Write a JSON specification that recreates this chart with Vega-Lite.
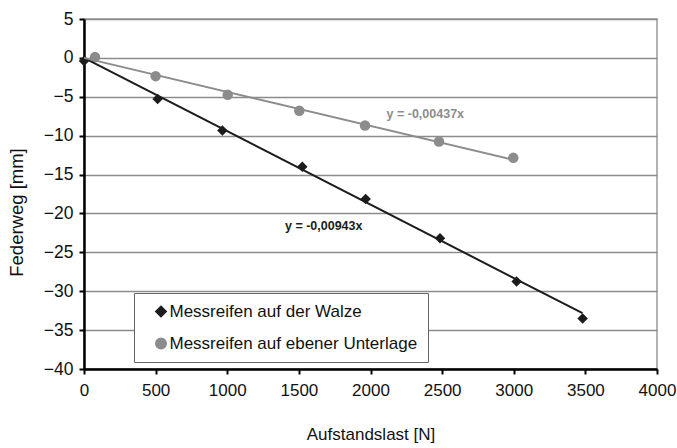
{
  "$schema": "https://vega.github.io/schema/vega-lite/v6.json",
  "autosize": "none",
  "width": 573,
  "height": 350,
  "padding": {"left": 84, "top": 19, "right": 20, "bottom": 79},
  "background": "white",
  "config": {
    "font": "Liberation Sans",
    "view": {"stroke": "#9a9a9a", "strokeWidth": 1.5},
    "axis": {
      "labelFont": "Liberation Sans",
      "titleFont": "Liberation Sans",
      "labelFontSize": 17,
      "titleFontSize": 17,
      "titleFontWeight": "normal",
      "labelColor": "#111",
      "titleColor": "#111",
      "domainColor": "#000",
      "domainWidth": 2.5,
      "tickColor": "#000",
      "tickWidth": 2,
      "tickSize": 5
    }
  },
  "datasets": {
    "messung": [
      {"last": 0, "weg": -0.4, "serie": "Messreifen auf der Walze"},
      {"last": 514, "weg": -5.3, "serie": "Messreifen auf der Walze"},
      {"last": 966, "weg": -9.35, "serie": "Messreifen auf der Walze"},
      {"last": 1524, "weg": -14.0, "serie": "Messreifen auf der Walze"},
      {"last": 1966, "weg": -18.15, "serie": "Messreifen auf der Walze"},
      {"last": 2485, "weg": -23.2, "serie": "Messreifen auf der Walze"},
      {"last": 3020, "weg": -28.75, "serie": "Messreifen auf der Walze"},
      {"last": 3481, "weg": -33.5, "serie": "Messreifen auf der Walze"},
      {"last": 77, "weg": 0.1, "serie": "Messreifen auf ebener Unterlage"},
      {"last": 500, "weg": -2.35, "serie": "Messreifen auf ebener Unterlage"},
      {"last": 1003, "weg": -4.75, "serie": "Messreifen auf ebener Unterlage"},
      {"last": 1503, "weg": -6.8, "serie": "Messreifen auf ebener Unterlage"},
      {"last": 1962, "weg": -8.7, "serie": "Messreifen auf ebener Unterlage"},
      {"last": 2478, "weg": -10.75, "serie": "Messreifen auf ebener Unterlage"},
      {"last": 2997, "weg": -12.85, "serie": "Messreifen auf ebener Unterlage"}
    ],
    "trend": [
      {"last": 0, "weg": 0, "serie": "Messreifen auf der Walze"},
      {"last": 3480, "weg": -32.82, "serie": "Messreifen auf der Walze"},
      {"last": 0, "weg": 0, "serie": "Messreifen auf ebener Unterlage"},
      {"last": 3000, "weg": -13.11, "serie": "Messreifen auf ebener Unterlage"}
    ],
    "gleichung": [
      {"last": 1403, "weg": -21.6, "text": "y = -0,00943x", "serie": "Messreifen auf der Walze"},
      {"last": 2112, "weg": -7.15, "text": "y = -0,00437x", "serie": "Messreifen auf ebener Unterlage"}
    ]
  },
  "encoding": {
    "x": {
      "field": "last",
      "type": "quantitative",
      "scale": {"domain": [0, 4000], "nice": false},
      "axis": {
        "title": "Aufstandslast [N]",
        "values": [0, 500, 1000, 1500, 2000, 2500, 3000, 3500, 4000],
        "format": "d",
        "grid": false,
        "labelPadding": 8,
        "titlePadding": 28,
        "labelFlush": false,
        "labelOverlap": false
      }
    },
    "y": {
      "field": "weg",
      "type": "quantitative",
      "scale": {"domain": [-40, 5], "nice": false, "zero": false},
      "axis": {
        "title": "Federweg [mm]",
        "values": [-40, -35, -30, -25, -20, -15, -10, -5, 0, 5],
        "format": "d",
        "grid": true,
        "gridColor": "#8c8c8c",
        "gridWidth": 1.5,
        "labelPadding": 6,
        "labelFontSize": 17.5,
        "titlePadding": 17,
        "titleFontSize": 18.5,
        "titleY": 193,
        "labelFlush": false,
        "labelOverlap": false
      }
    },
    "color": {
      "field": "serie",
      "type": "nominal",
      "scale": {"domain": ["Messreifen auf der Walze", "Messreifen auf ebener Unterlage"], "range": ["#1c1c1c", "#8c8c8c"]},
      "legend": {
        "title": null,
        "orient": "none",
        "legendX": 50,
        "legendY": 274,
        "fillColor": "white",
        "strokeColor": "#666",
        "padding": 10,
        "labelFont": "Liberation Sans",
        "labelFontSize": 17,
        "labelColor": "#111",
        "symbolOffset": 8.5,
        "labelOffset": 0,
        "symbolSize": 110,
        "rowPadding": 14,
        "labelLimit": 400
      }
    }
  },
  "layer": [
    {
      "data": {"name": "messung"},
      "mark": {"type": "point", "filled": true, "opacity": 1, "size": 110},
      "encoding": {
        "shape": {
          "field": "serie",
          "type": "nominal",
          "scale": {"domain": ["Messreifen auf der Walze", "Messreifen auf ebener Unterlage"], "range": ["diamond", "circle"]}
        }
      }
    },
    {
      "data": {"name": "trend"},
      "mark": {"type": "line", "strokeWidth": 2},
      "encoding": {
        "detail": {"field": "serie"}
      }
    },
    {
      "data": {"name": "gleichung"},
      "mark": {"type": "text", "align": "left", "baseline": "middle", "fontSize": 12.5, "fontWeight": "bold", "font": "Liberation Sans"},
      "encoding": {
        "text": {"field": "text"}
      }
    }
  ]
}
